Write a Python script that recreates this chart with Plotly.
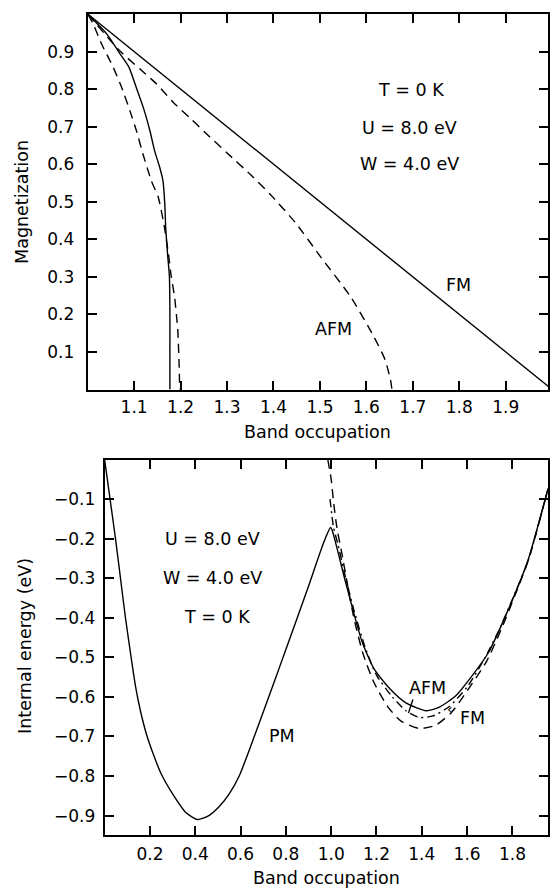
import plotly.graph_objects as go

# ---------------- Top panel data: magnetization vs band occupation ----------------
fm_x = [1.0, 2.0]
fm_y = [1.0, 0.0]

afm_x = [1.0, 1.069, 1.112, 1.148, 1.184, 1.223, 1.255, 1.30, 1.35, 1.398, 1.448, 1.501, 1.566, 1.616, 1.640, 1.652, 1.655]
afm_y = [1.0, 0.902, 0.854, 0.814, 0.765, 0.720, 0.682, 0.630, 0.573, 0.513, 0.443, 0.354, 0.247, 0.141, 0.080, 0.025, 0.0]

inner_solid_x = [1.0, 1.041, 1.069, 1.089, 1.103, 1.120, 1.134, 1.144, 1.155, 1.162, 1.166, 1.168, 1.172, 1.176, 1.177, 1.177, 1.177]
inner_solid_y = [1.0, 0.947, 0.895, 0.858, 0.810, 0.750, 0.689, 0.636, 0.592, 0.556, 0.494, 0.430, 0.360, 0.300, 0.200, 0.100, 0.0]

inner_dash_x = [1.0, 1.012, 1.030, 1.055, 1.073, 1.091, 1.105, 1.119, 1.137, 1.152, 1.165, 1.174, 1.180, 1.187, 1.194, 1.197, 1.198]
inner_dash_y = [1.0, 0.973, 0.920, 0.858, 0.805, 0.742, 0.689, 0.627, 0.556, 0.512, 0.434, 0.360, 0.300, 0.247, 0.158, 0.060, 0.0]

top_ticks = [1.1, 1.2, 1.3, 1.4, 1.5, 1.6, 1.7, 1.8, 1.9]
top_ticktext = ["1.1", "1.2", "1.3", "1.4", "1.5", "1.6", "1.7", "1.8", "1.9"]
mag_ticks = [0.1, 0.2, 0.3, 0.4, 0.5, 0.6, 0.7, 0.8, 0.9]
mag_ticktext = ["0.1", "0.2", "0.3", "0.4", "0.5", "0.6", "0.7", "0.8", "0.9"]

# ---------------- Bottom panel data: internal energy vs band occupation ----------------
pm_x = [0.0, 0.024, 0.048, 0.070, 0.092, 0.117, 0.137, 0.158, 0.185, 0.215, 0.250, 0.300, 0.360, 0.410,
        0.460, 0.506, 0.550, 0.594, 0.667, 0.750, 0.800, 0.894, 0.967, 0.997,
        1.004, 1.063, 1.136, 1.190, 1.260, 1.330, 1.420, 1.480, 1.550, 1.620, 1.693, 1.781, 1.869, 1.957]
pm_y = [0.0, -0.10, -0.20, -0.30, -0.40, -0.50, -0.575, -0.635, -0.695, -0.745, -0.795, -0.845, -0.893, -0.91,
        -0.90, -0.877, -0.845, -0.80, -0.69, -0.56, -0.48, -0.33, -0.21, -0.172,
        -0.178, -0.309, -0.46, -0.53, -0.58, -0.615, -0.635, -0.625, -0.597, -0.548, -0.489, -0.38, -0.254, -0.073]

fmE_x = [0.985, 1.0, 1.011, 1.026, 1.048, 1.070, 1.100, 1.140, 1.190, 1.250, 1.310, 1.390, 1.460, 1.530, 1.600, 1.686, 1.750, 1.810, 1.870, 1.957]
fmE_y = [0.0, -0.05, -0.11, -0.175, -0.24, -0.31, -0.40, -0.49, -0.565, -0.625, -0.662, -0.68, -0.672, -0.64, -0.585, -0.51, -0.43, -0.345, -0.255, -0.075]

afmE_x = [0.995, 1.010, 1.030, 1.060, 1.100, 1.150, 1.200, 1.270, 1.330, 1.390, 1.450, 1.520, 1.600, 1.680, 1.750, 1.810, 1.870, 1.957]
afmE_y = [-0.10, -0.17, -0.215, -0.29, -0.38, -0.475, -0.545, -0.60, -0.635, -0.652, -0.648, -0.625, -0.575, -0.50, -0.42, -0.34, -0.255, -0.075]

bot_ticks = [0.2, 0.4, 0.6, 0.8, 1.0, 1.2, 1.4, 1.6, 1.8]
bot_ticktext = ["0.2", "0.4", "0.6", "0.8", "1.0", "1.2", "1.4", "1.6", "1.8"]
e_ticks = [-0.1, -0.2, -0.3, -0.4, -0.5, -0.6, -0.7, -0.8, -0.9]
e_ticktext = ["\u22120.1", "\u22120.2", "\u22120.3", "\u22120.4", "\u22120.5", "\u22120.6", "\u22120.7", "\u22120.8", "\u22120.9"]

FONT = "DejaVu Sans"
LW = 1.4
DASH = "9px,6px"
DASHDOT = "8px,4px,2px,4px"

fig = go.Figure()

# top panel traces
fig.add_trace(go.Scatter(x=fm_x, y=fm_y, mode="lines", line=dict(color="black", width=LW), xaxis="x", yaxis="y"))
fig.add_trace(go.Scatter(x=afm_x, y=afm_y, mode="lines", line=dict(color="black", width=LW, dash=DASH, shape="spline", smoothing=0.6), xaxis="x", yaxis="y"))
fig.add_trace(go.Scatter(x=inner_solid_x, y=inner_solid_y, mode="lines", line=dict(color="black", width=LW, shape="spline", smoothing=0.6), xaxis="x", yaxis="y"))
fig.add_trace(go.Scatter(x=inner_dash_x, y=inner_dash_y, mode="lines", line=dict(color="black", width=LW, dash=DASH, shape="spline", smoothing=0.5), xaxis="x", yaxis="y"))

# bottom panel traces
fig.add_trace(go.Scatter(x=pm_x, y=pm_y, mode="lines", line=dict(color="black", width=LW, shape="spline", smoothing=0.6), xaxis="x2", yaxis="y2"))
fig.add_trace(go.Scatter(x=fmE_x, y=fmE_y, mode="lines", line=dict(color="black", width=LW, dash=DASH, shape="spline", smoothing=0.6), xaxis="x2", yaxis="y2"))
fig.add_trace(go.Scatter(x=afmE_x, y=afmE_y, mode="lines", line=dict(color="black", width=LW, dash=DASHDOT, shape="spline", smoothing=0.6), xaxis="x2", yaxis="y2"))

W, H = 550, 891
axis_common = dict(showgrid=False, zeroline=False, showline=True, linecolor="black", linewidth=2,
                   mirror="ticks", ticks="inside", ticklen=9, tickwidth=1.5, tickcolor="black",
                   tickfont=dict(family=FONT, size=17, color="black"), tickmode="array")

fig.update_layout(
    width=W, height=H,
    margin=dict(l=0, r=0, t=0, b=0),
    paper_bgcolor="white", plot_bgcolor="white",
    showlegend=False,
    xaxis=dict(domain=[88 / W, 1.0], range=[1.0, 1.991], anchor="y",
               tickvals=top_ticks, ticktext=top_ticktext, ticklabelstandoff=1, **axis_common),
    yaxis=dict(domain=[1 - 389.5 / H, 1 - 14 / H], range=[0.0, 1.0], anchor="x",
               tickvals=mag_ticks, ticktext=mag_ticktext, ticklabelstandoff=8, **axis_common),
    xaxis2=dict(domain=[105 / W, 1.0], range=[0.0, 1.957], anchor="y2",
                tickvals=bot_ticks, ticktext=bot_ticktext, ticklabelstandoff=3, **axis_common),
    yaxis2=dict(domain=[1 - 835 / H, 1 - 459.5 / H], range=[-0.949, 0.0], anchor="x2",
                tickvals=e_ticks, ticktext=e_ticktext, ticklabelstandoff=4, **axis_common),
)

tf = dict(family=FONT, size=17.5, color="black")
ann = []
# axis titles
ann.append(dict(text="Magnetization", xref="paper", yref="paper", x=22 / W, y=1 - 202 / H,
                textangle=-90, showarrow=False, font=tf, xanchor="center", yanchor="middle"))
ann.append(dict(text="Band occupation", xref="paper", yref="paper", x=(88 + 550) / 2 / W, y=1 - 432 / H,
                showarrow=False, font=tf, xanchor="center", yanchor="middle"))
ann.append(dict(text="Internal energy (eV)", xref="paper", yref="paper", x=25 / W, y=1 - 646 / H,
                textangle=-90, showarrow=False, font=tf, xanchor="center", yanchor="middle"))
ann.append(dict(text="Band occupation", xref="paper", yref="paper", x=(105 + 550) / 2 / W, y=1 - 878 / H,
                showarrow=False, font=tf, xanchor="center", yanchor="middle"))

# top panel labels
for txt, x, y in [("T = 0 K", 1.695, 0.798), ("U = 8.0 eV", 1.693, 0.697), ("W = 4.0 eV", 1.693, 0.60),
                  ("FM", 1.798, 0.278), ("AFM", 1.53, 0.161)]:
    ann.append(dict(text=txt, x=x, y=y, xref="x", yref="y", showarrow=False, font=tf))

# bottom panel labels
for txt, x, y in [("U = 8.0 eV", 0.475, -0.20), ("W = 4.0 eV", 0.475, -0.30), ("T = 0 K", 0.495, -0.398),
                  ("PM", 0.783, -0.70), ("AFM", 1.425, -0.577), ("FM", 1.625, -0.653)]:
    ann.append(dict(text=txt, x=x, y=y, xref="x2", yref="y2", showarrow=False, font=tf))

# leader lines
ann.append(dict(text="", x=1.341, y=-0.641, ax=1.363, ay=-0.603, xref="x2", yref="y2",
                axref="x2", ayref="y2", showarrow=True, arrowhead=0, arrowwidth=1.4, arrowcolor="black"))
ann.append(dict(text="\u2039", x=1.525, y=-0.630, xref="x2", yref="y2", showarrow=False,
                font=dict(family=FONT, size=14, color="black")))

fig.update_layout(annotations=ann)

fig.write_html("out.html")
